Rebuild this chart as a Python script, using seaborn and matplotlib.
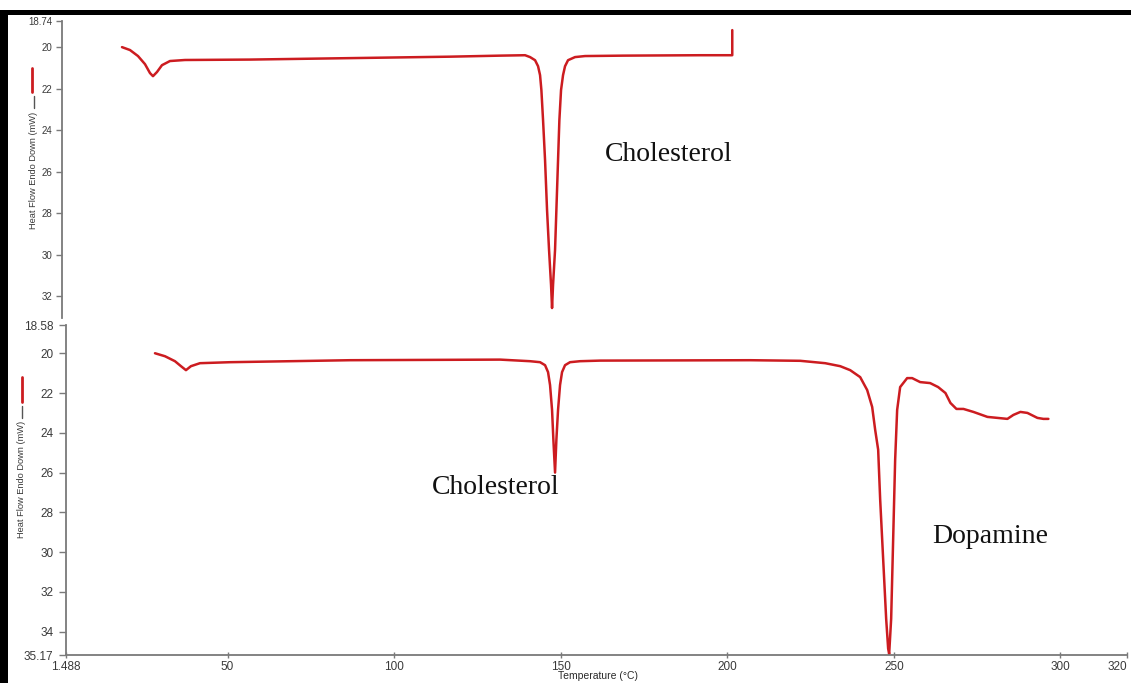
import numpy as np
import pandas as pd
import seaborn as sns
import matplotlib.pyplot as plt
from matplotlib.lines import Line2D
from matplotlib.patches import Rectangle

# DSC thermogram of pure cholesterol (upper trace)
chol_temp = [19.5, 21.9, 24.3, 26.4, 27.9, 28.8, 30.0, 31.5, 33.9, 38.4, 57.9,
             88.0, 118.0, 133.0, 140.5, 142.0, 143.5, 144.4, 145.0, 145.4,
             145.9, 146.5, 147.1, 147.7, 148.3, 148.6, 148.9, 149.5, 149.9,
             150.4, 150.8, 151.3, 151.9, 152.5, 153.4, 155.5, 158.5,
             170.0, 193.0, 202.7, 202.7]
chol_flow = [20.00, 20.14, 20.43, 20.82, 21.25, 21.40, 21.20, 20.87, 20.67, 20.62, 20.60,
             20.53, 20.46, 20.41, 20.39, 20.48, 20.63, 20.92, 21.35, 22.07,
             23.52, 25.45, 27.86, 29.78, 31.47, 32.58, 31.47, 29.78, 27.86,
             25.45, 23.52, 22.07, 21.35, 20.92, 20.63, 20.48, 20.43,
             20.41, 20.39, 20.39, 19.18]

# DSC thermogram of the dopamine / cholesterol mixture (lower trace)
mix_temp = [28.2, 31.2, 34.2, 36.0, 37.5, 39.0, 41.7, 50.7, 86.8, 131.8,
            140.8, 143.8, 145.3, 146.2, 146.8, 147.4, 147.8, 148.3, 148.7, 149.2,
            149.8, 150.4, 151.3, 152.8, 155.8,
            161.9, 206.9, 221.9, 229.4, 233.9, 236.9, 239.9, 242.0, 243.5,
            244.4, 245.3, 245.9, 246.8, 247.7, 248.3, 248.6, 249.2, 249.8, 250.4,
            251.0, 251.9, 254.0, 255.5, 257.9, 260.9, 263.3, 265.5, 267.0, 268.8,
            270.9, 273.9, 278.1, 281.1, 284.1, 285.9, 288.0, 290.1, 293.1, 294.9,
            296.4]
mix_flow = [20.00, 20.15, 20.40, 20.65, 20.85, 20.65, 20.50, 20.45, 20.35, 20.32,
            20.40, 20.45, 20.60, 20.95, 21.60, 22.85, 24.35, 26.00, 24.35, 22.85,
            21.60, 20.95, 20.60, 20.45, 20.40,
            20.37, 20.35, 20.38, 20.50, 20.65, 20.85, 21.20, 21.85, 22.70,
            23.85, 24.85, 27.35, 30.35, 33.35, 34.85, 35.12, 33.35, 29.35, 25.35,
            22.85, 21.70, 21.25, 21.25, 21.45, 21.50, 21.70, 22.00, 22.50, 22.80,
            22.80, 22.95, 23.20, 23.25, 23.30, 23.10, 22.95, 23.00, 23.25, 23.30,
            23.30]

top_yticks = [18.74, 20, 22, 24, 26, 28, 30, 32]
bot_yticks = [18.58, 20, 22, 24, 26, 28, 30, 32, 34, 35.17]
xticks = [1.488, 50, 100, 150, 200, 250, 300, 320]

def fmt(v):
    return f"{v:g}"

df_top = pd.DataFrame({"Temperature": chol_temp, "HeatFlow": chol_flow})
df_bot = pd.DataFrame({"Temperature": mix_temp, "HeatFlow": mix_flow})

sns.set_theme(style="white")
plt.rcParams["font.family"] = ["Liberation Sans", "DejaVu Sans"]

W, H = 1131, 683
fig = plt.figure(figsize=(W / 100, H / 100), dpi=100, facecolor="white")

def box(l, t, r, b):
    return [l / W, 1 - b / H, (r - l) / W, (b - t) / H]

ax_top = fig.add_axes(box(62, 21, 1123, 318))
ax_bot = fig.add_axes(box(66, 325, 1127, 655))

red = "#cc1c20"
axis_grey = "#7a7a7a"
label_col = "#3a3a3a"

sns.lineplot(data=df_top, x="Temperature", y="HeatFlow", sort=False,
             estimator=None, color=red, linewidth=1.8, ax=ax_top)
sns.lineplot(data=df_bot, x="Temperature", y="HeatFlow", sort=False,
             estimator=None, color=red, linewidth=1.8, ax=ax_bot)

# upper panel: only the heat-flow axis is shown
ax_top.set_xlim(1.488, 320)
ax_top.set_ylim(33.06, 18.74)
ax_top.set_xticks([])
ax_top.set_yticks(top_yticks)
ax_top.set_yticklabels([fmt(v) for v in top_yticks])
for s in ["top", "right", "bottom"]:
    ax_top.spines[s].set_visible(False)
ax_top.spines["left"].set_color(axis_grey)
ax_top.spines["left"].set_linewidth(1.3)
ax_top.tick_params(axis="y", direction="out", length=4, width=1, color=axis_grey,
                   labelsize=7, labelcolor=label_col, pad=3, left=True)
ax_top.set_xlabel("")
ax_top.set_ylabel("")

# lower panel
ax_bot.set_xlim(1.488, 320)
ax_bot.set_ylim(35.17, 18.58)
ax_bot.set_yticks(bot_yticks)
ax_bot.set_yticklabels([fmt(v) for v in bot_yticks])
ax_bot.set_xticks(xticks)
ax_bot.set_xticklabels([fmt(v) for v in xticks])
ax_bot.get_xticklabels()[-1].set_horizontalalignment("right")
for s in ["top", "right"]:
    ax_bot.spines[s].set_visible(False)
for s in ["left", "bottom"]:
    ax_bot.spines[s].set_color(axis_grey)
    ax_bot.spines[s].set_linewidth(1.3)
ax_bot.tick_params(axis="y", direction="out", length=5, width=1, color=axis_grey,
                   labelsize=8.5, labelcolor=label_col, pad=4, left=True)
ax_bot.tick_params(axis="x", direction="inout", length=4, width=1, color=axis_grey,
                   labelsize=8.5, labelcolor=label_col, pad=2, bottom=True)
ax_bot.set_ylabel("")
ax_bot.set_xlabel("")

for ax in (ax_top, ax_bot):
    ax.set_facecolor("white")
    ax.grid(False)

# temperature axis title, tucked just under the tick labels
fig.text(598 / W, 1 - 676 / H, "Temperature (°C)", ha="center", va="center",
         fontsize=7.5, color="#2a2a2a")

# heat-flow axis titles with their trace keys
fig.text(34 / W, 1 - 170 / H, "Heat Flow Endo Down (mW)", rotation=90,
         ha="center", va="center", fontsize=6.7, color=label_col)
fig.text(22 / W, 1 - 479 / H, "Heat Flow Endo Down (mW)", rotation=90,
         ha="center", va="center", fontsize=6.7, color=label_col)
fig.add_artist(Line2D([33.5 / W, 33.5 / W], [1 - 108 / H, 1 - 96 / H],
                      color="#555555", linewidth=1.0))
fig.add_artist(Line2D([32 / W, 32 / W], [1 - 92 / H, 1 - 68 / H],
                      color=red, linewidth=2.0))
fig.add_artist(Line2D([22 / W, 22 / W], [1 - 418 / H, 1 - 406 / H],
                      color="#555555", linewidth=1.0))
fig.add_artist(Line2D([22 / W, 22 / W], [1 - 402 / H, 1 - 377 / H],
                      color=red, linewidth=2.0))

# peak annotations
serif = ["Liberation Serif", "DejaVu Serif"]
ax_top.text(183.7, 25.2, "Cholesterol", family=serif, fontsize=20,
            ha="center", va="center", color="#111111")
ax_bot.text(130.6, 26.75, "Cholesterol", family=serif, fontsize=20,
            ha="center", va="center", color="#111111")
ax_bot.text(279.0, 29.2, "Dopamine", family=serif, fontsize=20,
            ha="center", va="center", color="#111111")

# black frame along the left and top edges
fig.add_artist(Rectangle((0, 0), 7.5 / W, 1 - 10 / H, transform=fig.transFigure,
                         facecolor="black", edgecolor="none"))
fig.add_artist(Rectangle((0, 1 - 15 / H), 1, 5 / H, transform=fig.transFigure,
                         facecolor="black", edgecolor="none"))

fig.savefig("out.png", dpi=100, facecolor="white")
